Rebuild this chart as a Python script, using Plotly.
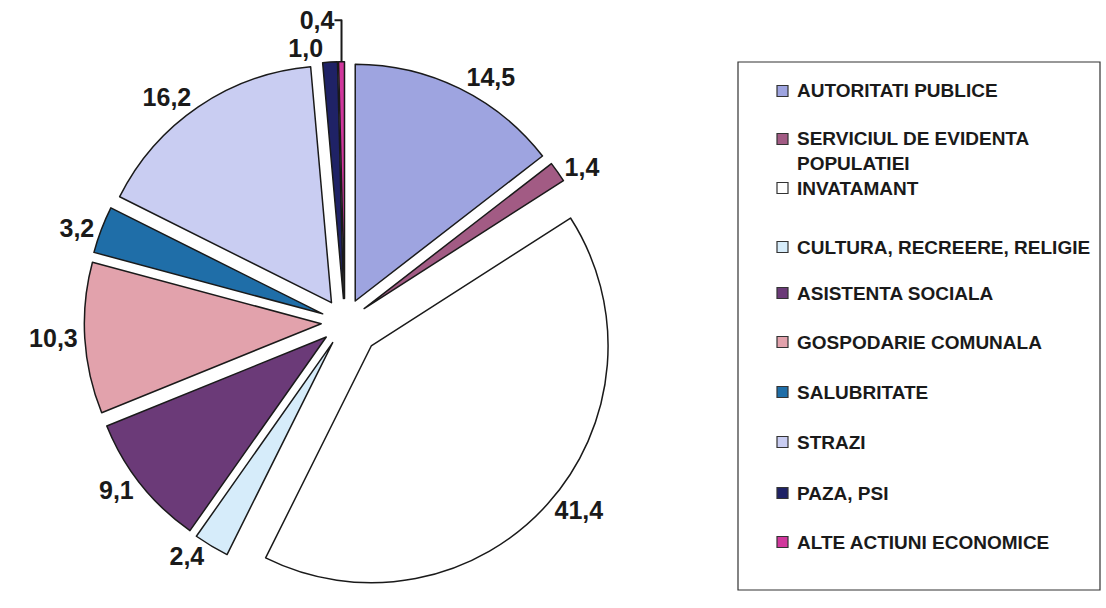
import plotly.graph_objects as go

categories = [
    "AUTORITATI PUBLICE",
    "SERVICIUL DE EVIDENTA<br>POPULATIEI",
    "INVATAMANT",
    "CULTURA, RECREERE, RELIGIE",
    "ASISTENTA SOCIALA",
    "GOSPODARIE COMUNALA",
    "SALUBRITATE",
    "STRAZI",
    "PAZA, PSI",
    "ALTE ACTIUNI ECONOMICE",
]
values = [14.5, 1.4, 41.4, 2.4, 9.1, 10.3, 3.2, 16.2, 1.0, 0.4]
colors = ["#9ea4e0", "#a25b84", "#ffffff", "#d6ecfa", "#6b3a78",
          "#e2a2ac", "#1f6ea8", "#c9cdf2", "#1f2266", "#d0379c"]
pulls = [0.1, 0.1, 0.15, 0.1, 0.1, 0.1, 0.1, 0.1, 0.1, 0.1]

W, H = 1106, 608
FONT = "Liberation Sans, Arial"
INK = "#1a1a1a"

fig = go.Figure(go.Pie(
    labels=categories,
    values=values,
    sort=False,
    direction="clockwise",
    rotation=0,
    pull=pulls,
    marker=dict(colors=colors, line=dict(color=INK, width=1.5)),
    texttemplate="%{value:.1f}",
    textposition="outside",
    textfont=dict(family=FONT, size=25, color=INK, weight="bold"),
    domain=dict(x=[0.0655, 0.558], y=[0.022, 0.918]),
    hoverinfo="label+value",
    showlegend=False,
    automargin=False,
))

# legend box drawn as a frame, entries placed like the original chart
fig.add_shape(type="rect", xref="paper", yref="paper",
              x0=738/W, x1=1100/W, y0=1-590/H, y1=1-62/H,
              line=dict(color="#333333", width=1.2), fillcolor="rgba(0,0,0,0)")

legend_y = [91, 139, 188, 247, 293, 342, 392, 442, 493, 542]  # first-line centres, px
for name, col, yp in zip(categories, colors, legend_y):
    fig.add_shape(type="rect", xref="paper", yref="paper",
                  x0=777/W, x1=788/W, y0=1-(yp+5.5)/H, y1=1-(yp-5.5)/H,
                  line=dict(color="#333333", width=1.2), fillcolor=col)
    fig.add_annotation(xref="paper", yref="paper", x=796/W, y=1-(yp-11.5)/H,
                       xanchor="left", yanchor="top", align="left",
                       text=name, showarrow=False, borderpad=0,
                       font=dict(family=FONT, size=19, color=INK, weight="bold"))

fig.update_layout(
    width=W, height=H,
    margin=dict(l=0, r=0, t=0, b=0, pad=0, autoexpand=False),
    paper_bgcolor="white",
    plot_bgcolor="white",
    separators=",.",
)

fig.write_html("out.html",
               config={"displayModeBar": False},
               post_script="document.body.style.margin='0';document.body.style.overflow='hidden';")
